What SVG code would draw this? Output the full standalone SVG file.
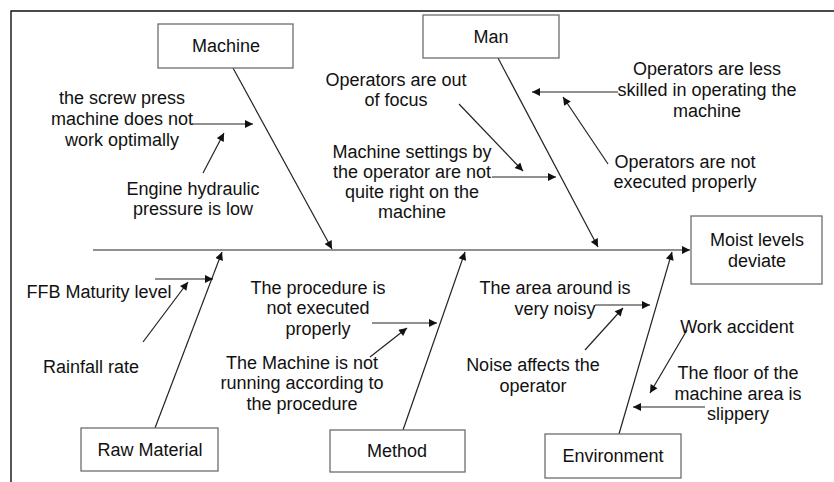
<svg xmlns="http://www.w3.org/2000/svg" width="834" height="482" viewBox="0 0 834 482">
<style>
.box{fill:#fff;stroke:#6e6e6e;stroke-width:1.3}
.t{font-family:"Liberation Sans",Arial,sans-serif;font-size:18px;fill:#111;text-anchor:middle}
.c{stroke:#222;stroke-width:1.2;fill:none;marker-end:url(#ah)}
.s{stroke:#111;stroke-width:1.4;fill:none}
</style>
<defs>
<marker id="ah" viewBox="0 0 10 10" refX="10" refY="5" markerWidth="10" markerHeight="8" markerUnits="userSpaceOnUse" orient="auto">
<path d="M0,0 L10,5 L0,10 z" fill="#111"/>
</marker>
</defs>
<rect width="834" height="482" fill="#fff"/>
<path class="s" d="M11,482 V11 H834"/>
<g id="connectors">
<line class="c" x1="93" y1="250" x2="690" y2="250"/>
<line class="c" x1="233" y1="68" x2="332" y2="249"/>
<line class="c" x1="498" y1="58" x2="598" y2="247"/>
<line class="c" x1="155" y1="428" x2="222" y2="252"/>
<line class="c" x1="403" y1="430" x2="465" y2="252"/>
<line class="c" x1="619" y1="434" x2="672" y2="252"/>
<line class="c" x1="192" y1="124" x2="253" y2="124"/>
<line class="c" x1="203" y1="173" x2="224" y2="133"/>
<line class="c" x1="618" y1="92" x2="532" y2="92"/>
<line class="c" x1="608" y1="164" x2="563" y2="97"/>
<line class="c" x1="459" y1="104" x2="523" y2="171"/>
<line class="c" x1="492" y1="177" x2="556" y2="177"/>
<line class="c" x1="155" y1="279" x2="213" y2="279"/>
<line class="c" x1="143" y1="342" x2="188" y2="282"/>
<line class="c" x1="372" y1="323" x2="437" y2="323"/>
<line class="c" x1="370" y1="357" x2="407" y2="328"/>
<line class="c" x1="595" y1="305" x2="650" y2="305"/>
<line class="c" x1="585" y1="350" x2="623" y2="308"/>
<line class="c" x1="687" y1="330" x2="650" y2="393"/>
<line class="c" x1="705" y1="407" x2="633" y2="407"/>
</g>
<g id="machine"><rect class="box" x="158" y="24" width="135" height="44"/><text class="t" x="226" y="52">Machine</text></g>
<g id="man"><rect class="box" x="423" y="15" width="136" height="43"/><text class="t" x="491" y="43">Man</text></g>
<g id="effect"><rect class="box" x="691" y="216" width="131" height="68"/><text class="t" x="757" y="246">Moist levels</text><text class="t" x="757" y="267">deviate</text></g>
<g id="raw-material"><rect class="box" x="81" y="428" width="137" height="43"/><text class="t" x="150" y="456">Raw Material</text></g>
<g id="method"><rect class="box" x="330" y="430" width="135" height="42"/><text class="t" x="397" y="457">Method</text></g>
<g id="environment"><rect class="box" x="545" y="434" width="136" height="44"/><text class="t" x="613" y="462">Environment</text></g>
<g id="cause-screw"><text class="t" x="122" y="104">the screw press</text><text class="t" x="122" y="125">machine does not</text><text class="t" x="122" y="146">work optimally</text></g>
<g id="cause-hydraulic"><text class="t" x="193" y="195">Engine hydraulic</text><text class="t" x="193" y="215">pressure is low</text></g>
<g id="cause-focus"><text class="t" x="396" y="86">Operators are out</text><text class="t" x="396" y="106">of focus</text></g>
<g id="cause-settings"><text class="t" x="412" y="158">Machine settings by</text><text class="t" x="412" y="178">the operator are not</text><text class="t" x="412" y="198">quite right on the</text><text class="t" x="412" y="218">machine</text></g>
<g id="cause-skilled"><text class="t" x="707" y="75">Operators are less</text><text class="t" x="707" y="96">skilled in operating the</text><text class="t" x="707" y="117">machine</text></g>
<g id="cause-executed"><text class="t" x="685" y="168">Operators are not</text><text class="t" x="685" y="188">executed properly</text></g>
<g id="cause-ffb"><text class="t" x="99" y="298">FFB Maturity level</text></g>
<g id="cause-rainfall"><text class="t" x="91" y="373">Rainfall rate</text></g>
<g id="cause-procedure"><text class="t" x="318" y="294">The procedure is</text><text class="t" x="318" y="314">not executed</text><text class="t" x="318" y="335">properly</text></g>
<g id="cause-running"><text class="t" x="302" y="369">The Machine is not</text><text class="t" x="302" y="389">running according to</text><text class="t" x="302" y="410">the procedure</text></g>
<g id="cause-noisy"><text class="t" x="555" y="294">The area around is</text><text class="t" x="555" y="315">very noisy</text></g>
<g id="cause-noise"><text class="t" x="533" y="371">Noise affects the</text><text class="t" x="533" y="392">operator</text></g>
<g id="cause-accident"><text class="t" x="737" y="333">Work accident</text></g>
<g id="cause-floor"><text class="t" x="738" y="379">The floor of the</text><text class="t" x="738" y="400">machine area is</text><text class="t" x="738" y="420">slippery</text></g>
</svg>
